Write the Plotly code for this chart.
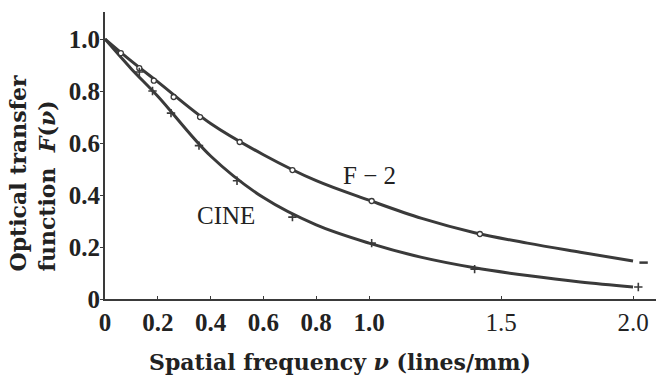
import plotly.graph_objects as go

# Smooth fitted curves
curve_x = [0.0, 0.1, 0.2, 0.4, 0.6, 0.8, 1.0, 1.2, 1.4, 1.6, 1.8, 2.0]
f2_curve = [1.0, 0.915, 0.835, 0.675, 0.555, 0.455, 0.38, 0.31, 0.255, 0.215, 0.18, 0.146]
cine_curve = [1.0, 0.885, 0.78, 0.55, 0.39, 0.285, 0.215, 0.16, 0.12, 0.09, 0.065, 0.046]

# Measured points
f2_pts_x = [0.06, 0.13, 0.185, 0.26, 0.36, 0.51, 0.71, 1.01, 1.42]
f2_pts_y = [0.946, 0.888, 0.84, 0.777, 0.70, 0.604, 0.496, 0.377, 0.25]
f2_end_x = [2.04]
f2_end_y = [0.14]
cine_pts_x = [0.13, 0.18, 0.25, 0.356, 0.50, 0.71, 1.01, 1.40, 2.02]
cine_pts_y = [0.873, 0.80, 0.715, 0.59, 0.455, 0.315, 0.215, 0.115, 0.046]

x_ticks = [0, 0.2, 0.4, 0.6, 0.8, 1.0, 1.5, 2.0]
x_tick_text = ["<b>0</b>", "<b>0.2</b>", "<b>0.4</b>", "<b>0.6</b>", "<b>0.8</b>", "<b>1.0</b>", "1.5", "2.0"]
y_ticks = [0, 0.2, 0.4, 0.6, 0.8, 1.0]
y_tick_text = ["0", "0.2", "0.4", "0.6", "0.8", "1.0"]

ink = "#3a3a3a"
serif = "Liberation Serif"
wide_serif = "DejaVu Serif"

fig = go.Figure()
fig.add_trace(go.Scatter(x=curve_x, y=f2_curve, mode="lines", line=dict(color=ink, width=3, shape="spline"),
                         hoverinfo="skip", showlegend=False))
fig.add_trace(go.Scatter(x=curve_x, y=cine_curve, mode="lines", line=dict(color=ink, width=3, shape="spline"),
                         hoverinfo="skip", showlegend=False))
fig.add_trace(go.Scatter(x=f2_pts_x, y=f2_pts_y, mode="markers", name="F-2",
                         marker=dict(symbol="circle", size=5, color="white", line=dict(color=ink, width=1.3)),
                         showlegend=False))
fig.add_trace(go.Scatter(x=f2_end_x, y=f2_end_y, mode="markers", name="F-2 end",
                         marker=dict(symbol="line-ew", size=6, color=ink, line=dict(color=ink, width=2.5)),
                         showlegend=False))
fig.add_trace(go.Scatter(x=cine_pts_x, y=cine_pts_y, mode="markers", name="CINE",
                         marker=dict(symbol="cross-thin", size=6, color=ink, line=dict(color=ink, width=1.6)),
                         showlegend=False))

fig.add_annotation(x=1.0, y=0.477, text="F − 2", showarrow=False,
                   font=dict(family=serif, size=25, color="#222"))
fig.add_annotation(x=0.46, y=0.32, text="CINE", showarrow=False,
                   font=dict(family=serif, size=25, color="#222"))
fig.add_annotation(xref="paper", yref="paper", x=-0.1316, y=0.439, xanchor="center", yanchor="middle",
                   text="Optical transfer<br>function  <i>F</i>(<i>ν</i>)", textangle=-90, align="left",
                   showarrow=False, font=dict(family=wide_serif, size=22, color="#222", weight="bold"))
fig.add_annotation(xref="paper", yref="paper", x=0.426, y=-0.2195, xanchor="center", yanchor="middle",
                   text="Spatial frequency <i>ν</i> (lines/mm)", showarrow=False,
                   font=dict(family=wide_serif, size=22, color="#222", weight="bold"))

fig.update_layout(
    width=656, height=375,
    margin=dict(l=105, r=0, t=12, b=76),
    paper_bgcolor="white", plot_bgcolor="white",
    xaxis=dict(range=[0, 2.087], tickvals=x_ticks, ticktext=x_tick_text, showgrid=False, zeroline=False,
               showline=True, linecolor=ink, linewidth=2, ticks="inside", ticklen=3, tickcolor=ink,
               tickfont=dict(family=serif, size=25, color="#222")),
    yaxis=dict(range=[0, 1.104], tickvals=y_ticks, ticktext=y_tick_text, showgrid=False, zeroline=False,
               showline=True, linecolor=ink, linewidth=2, ticks="outside", ticklen=3, tickcolor=ink,
               ticklabelstandoff=-5,
               tickfont=dict(family=serif, size=25, color="#222", weight="bold")),
)

fig.write_html("out.html")
